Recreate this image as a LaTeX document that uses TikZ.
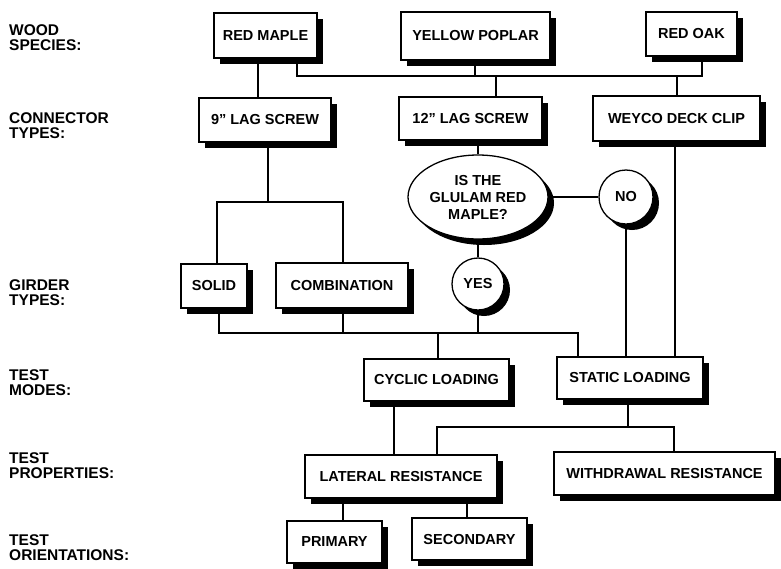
\documentclass[tikz,border=0pt]{standalone}
\usepackage{fontspec}
\setmainfont{Liberation Sans}
\usetikzlibrary{shapes.geometric,shadows}
\begin{document}
\begin{tikzpicture}[x=1pt,y=-1pt,
  shd/.style={drop shadow={shadow xshift=6pt,shadow yshift=-6pt,fill=black,opacity=1}},
  box/.style={draw,line width=1.3pt,fill=white,inner sep=0pt,shd,align=center,
    font=\fontsize{14.5}{17}\selectfont\bfseries},
  oval/.style={box,ellipse},
  rnd/.style={box,circle},
  lbl/.style={anchor=west,align=left,inner sep=0pt,font=\fontsize{15.5}{15.5}\selectfont\bfseries},
  conn/.style={line width=1.7pt}]
\useasboundingbox (0,0) rectangle (781,568);
% row labels
\node[lbl] (l1) at (9,37.5) {WOOD\\SPECIES:};
\node[lbl] (l2) at (9,125.5) {CONNECTOR\\TYPES:};
\node[lbl] (l3) at (9,292.5) {GIRDER\\TYPES:};
\node[lbl] (l4) at (9,382.5) {TEST\\MODES:};
\node[lbl] (l5) at (9,465.5) {TEST\\PROPERTIES:};
\node[lbl] (l6) at (9,547.5) {TEST\\ORIENTATIONS:};
% nodes
\node[box,minimum width=103pt,minimum height=45pt] (rm) at (265.5,35.5) {RED MAPLE};
\node[box,minimum width=149pt,minimum height=48pt] (pop) at (475.5,36) {YELLOW POPLAR};
\node[box,minimum width=91pt,minimum height=44pt] (oak) at (691.5,34) {RED OAK};
\node[box,minimum width=132pt,minimum height=44pt] (lag9) at (265,120) {9" LAG SCREW};
\node[box,minimum width=143pt,minimum height=43pt] (lag12) at (470.5,118.5) {12" LAG SCREW};
\node[box,minimum width=167pt,minimum height=45pt] (wey) at (676.5,118.5) {WEYCO DECK CLIP};
\node[oval,minimum width=140pt,minimum height=84pt] (q) at (478,197) {IS THE\\GLULAM RED\\MAPLE?};
\node[rnd,minimum size=54pt] (no) at (626,197) {NO};
\node[rnd,minimum size=52pt] (yes) at (478,284) {YES};
\node[box,minimum width=66pt,minimum height=44pt] (solid) at (214,286) {SOLID};
\node[box,minimum width=132pt,minimum height=45pt] (comb) at (342,285.5) {COMBINATION};
\node[box,minimum width=145pt,minimum height=42pt] (cyc) at (436.5,380) {CYCLIC LOADING};
\node[box,minimum width=146pt,minimum height=42pt] (stat) at (630,378) {STATIC LOADING};
\node[box,minimum width=192pt,minimum height=43pt] (lat) at (401,476.5) {LATERAL RESISTANCE};
\node[box,minimum width=221pt,minimum height=43pt] (wd) at (664.5,473.5) {WITHDRAWAL RESISTANCE};
\node[box,minimum width=95pt,minimum height=42pt] (pri) at (334.5,542) {PRIMARY};
\node[box,minimum width=115pt,minimum height=42pt] (sec) at (469.5,539) {SECONDARY};
% junction points
\coordinate (rmx) at (258,0);
\coordinate (busL) at (297,76);
\coordinate (busR) at (702,76);
\coordinate (popx) at (475,76);
\coordinate (l12x) at (496,76);
\coordinate (wx) at (677,76);
\coordinate (wbx) at (675,0);
\coordinate (br) at (268,202);
\coordinate (brL) at (217,202);
\coordinate (brR) at (343,202);
\coordinate (gL) at (219,333);
\coordinate (gR) at (578,333);
\coordinate (cx) at (438,333);
\coordinate (cbx) at (394,0);
\coordinate (sb) at (628,427);
\coordinate (sbL) at (437,427);
\coordinate (sbR) at (674,427);
\coordinate (p1) at (343,0);
\coordinate (p2) at (467,0);
% connectors
\draw[conn] (rm.south -| rmx) -- (lag9.north -| rmx);
\draw[conn] (rm.south -| busL) -- (busL) -- (busR) -- (oak.south -| busR);
\draw[conn] (pop.south -| popx) -- (popx);
\draw[conn] (l12x) -- (lag12.north -| l12x);
\draw[conn] (wx) -- (wey.north -| wx);
\draw[conn] (wey.south -| wbx) -- (stat.north -| wbx);
\draw[conn] (lag9.south -| br) -- (br);
\draw[conn] (solid.north -| brL) -- (brL) -- (brR) -- (comb.north -| brR);
\draw[conn] (lag12.south -| q.north) -- (q.north);
\draw[conn] (q.east) -- (no.west);
\draw[conn] (q.south) -- (yes.north);
\draw[conn] (no.south) -- (stat.north -| no.south);
\draw[conn] (solid.south -| gL) -- (gL) -- (gR) -- (stat.north -| gR);
\draw[conn] (comb.south -| brR) -- (gL -| brR);
\draw[conn] (yes.south) -- (gL -| yes.south);
\draw[conn] (cx) -- (cyc.north -| cx);
\draw[conn] (cyc.south -| cbx) -- (lat.north -| cbx);
\draw[conn] (stat.south -| sb) -- (sb);
\draw[conn] (lat.north -| sbL) -- (sbL) -- (sbR) -- (wd.north -| sbR);
\draw[conn] (lat.south -| p1) -- (pri.north -| p1);
\draw[conn] (lat.south -| p2) -- (sec.north -| p2);
\end{tikzpicture}
\end{document}
